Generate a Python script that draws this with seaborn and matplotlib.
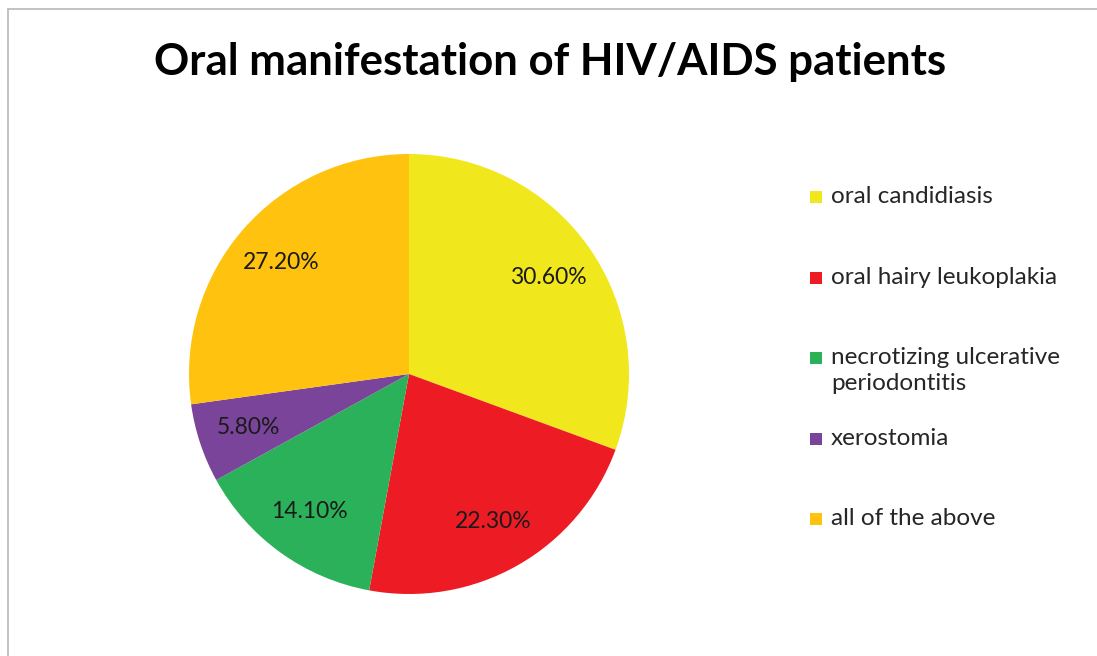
import matplotlib
matplotlib.use("Agg")
import matplotlib.pyplot as plt
import seaborn as sns
from matplotlib.patches import Rectangle
from matplotlib.lines import Line2D

categories = ["oral candidiasis", "oral hairy leukoplakia",
              "necrotizing ulcerative\nperiodontitis", "xerostomia", "all of the above"]
values = [30.6, 22.3, 14.1, 5.8, 27.2]
title = "Oral manifestation of HIV/AIDS patients"

sns.set_theme(style="white")
plt.rcParams['font.family'] = ['Lato', 'DejaVu Sans']
colors = sns.color_palette(["#F0E81C", "#ED1C24", "#2BB159", "#7A449A", "#FFC20E"])

W, H = 1097, 656
fig = plt.figure(figsize=(W / 100, H / 100), dpi=100)
fig.patch.set_facecolor("white")

# outer chart border (left and top only visible)
bx, by = 7.5 / W, 1 - 8.5 / H
fig.add_artist(Line2D([bx, bx], [0, by], transform=fig.transFigure,
                      color="#B8B8B8", linewidth=1.2))
fig.add_artist(Line2D([bx, 1], [by, by], transform=fig.transFigure,
                      color="#B8B8B8", linewidth=1.2))

cx, cy, r = 409, 374, 220
ax = fig.add_axes([(cx - r) / W, (H - cy - r) / H, 2 * r / W, 2 * r / H])
wedges, texts, autotexts = ax.pie(values, colors=colors, startangle=90, counterclock=False,
                                  autopct=lambda p: f"{p:.2f}%", pctdistance=0.77,
                                  wedgeprops=dict(linewidth=0),
                                  textprops=dict(fontsize=16.5, color="#1a1a1a"))
ax.set_xlim(-1, 1)
ax.set_ylim(-1, 1)
ax.set_aspect("equal")
ax.axis("off")

fig.text(550 / W, 1 - 62 / H, title, ha="center", va="center",
         fontsize=31.5, fontweight="bold", color="black")

# legend
leg_y = [197, 278, 358, 439, 519]
for lab, col, y in zip(categories, colors, leg_y):
    fig.patches.append(Rectangle((810 / W, 1 - (y + 6) / H), 12 / W, 12 / H,
                                 transform=fig.transFigure, facecolor=col, edgecolor="none"))
    fig.text(831 / W, 1 - (y - 11) / H, lab, ha="left", va="top",
             fontsize=17.5, color="#262626", linespacing=1.3)

fig.savefig("out.png", dpi=100)
